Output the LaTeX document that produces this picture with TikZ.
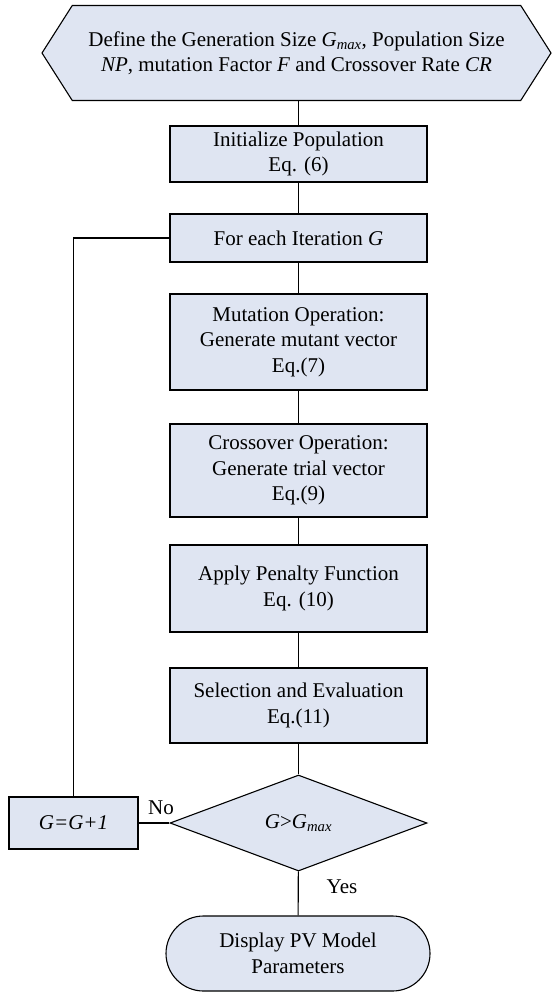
\documentclass[tikz,border=0pt]{standalone}
\usepackage{fontspec}
\setmainfont{Liberation Serif}
\usepackage{tikz}
\usetikzlibrary{shapes.geometric}
\usetikzlibrary{shapes.symbols}
\usepackage{xcolor}
\definecolor{boxfill}{RGB}{223,229,242}

\begin{document}
\begin{tikzpicture}
	[x=1pt,y=-1pt,line width=1.1,
	font=\fontsize{21}{25.5}\selectfont,
	proc/.style = {
		draw, fill=boxfill, rectangle, align=center,
		minimum width=257, inner sep=0
	},
	hexa/.style = {
		draw, fill=boxfill, shape=signal, signal to=west and east,
		signal pointer angle=115, align=center,
		minimum width=509, minimum height=95, inner sep=0
	},
	decision/.style = {
		draw, fill=boxfill, diamond, aspect=2.7, inner sep=0,
		minimum width=257, minimum height=96
	},
	terminal/.style = {
		draw, fill=boxfill, rectangle, rounded corners=37.5, align=center,
		minimum width=264, minimum height=75, inner sep=0
	},
	answer/.style = {
		inner sep=0
	}]
	\useasboundingbox (0,0) rectangle (552,993);

	%Draw nodes
	\node[hexa] at (296.5,53) (define) {Define the Generation Size \textit{G}\textsubscript{\textit{max}}, Population Size\\
		\textit{NP}, mutation Factor \textit{F} and Crossover Rate \textit{CR}};
	\node[proc, minimum height=56] at (298.5,154) (init) {Initialize Population\\Eq. (6)};
	\node[proc, minimum height=48] at (298.5,238) (iter) {For each Iteration \textit{G}};
	\node[proc, minimum height=96] at (298.5,342) (mutate) {Mutation Operation:\\Generate mutant vector\\Eq.(7)};
	\node[proc, minimum height=93] at (298.5,470.5) (cross) {Crossover Operation:\\Generate trial vector\\Eq.(9)};
	\node[proc, minimum height=87] at (298.5,588.5) (penalty) {Apply Penalty Function\\Eq. (10)};
	\node[proc, minimum height=75] at (298.5,705.5) (select) {Selection and Evaluation\\Eq.(11)};
	\node[decision] at (298.5,823) (check) {\textit{G}>\textit{G}\textsubscript{\textit{max}}};
	\node[proc, minimum width=129, minimum height=52] at (73.5,823) (incr) {\textit{G=G+1}};
	\node[terminal] at (298,953.5) (display) {Display PV Model\\Parameters};
	\node[answer] at (161,808) (no) {No};
	\node[answer] at (342,887) (yes) {Yes};
	\coordinate (cloop) at (incr.north |- iter.west);

	%Draw wires
	\draw (define.south -| init.north) -- (init.north);
	\draw (init) -- (iter);
	\draw (iter) -- (mutate);
	\draw (mutate) -- (cross);
	\draw (cross) -- (penalty);
	\draw (penalty) -- (select);
	\draw (select) -- (check);
	\draw (check) -- (display);
	\draw (check) -- (incr);
	\draw (incr) -- (cloop) -- (iter);
\end{tikzpicture}
\end{document}
